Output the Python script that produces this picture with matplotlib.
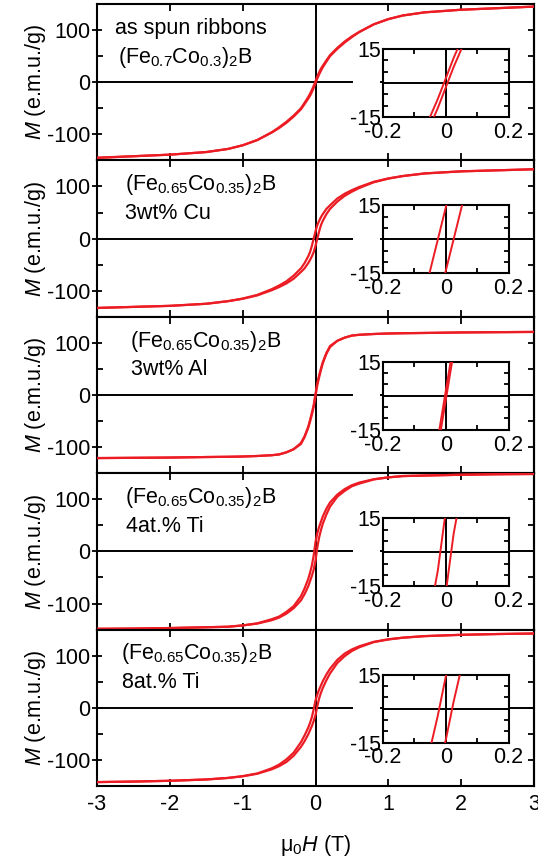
import numpy as np
import matplotlib
matplotlib.use('Agg')
import matplotlib.pyplot as plt
from matplotlib.ticker import FixedLocator

plt.rcParams['font.family'] = ['Liberation Sans', 'DejaVu Sans']
plt.rcParams['mathtext.fontset'] = 'custom'
plt.rcParams['mathtext.rm'] = 'Liberation Sans'
plt.rcParams['mathtext.it'] = 'Liberation Sans:italic'
plt.rcParams['mathtext.bf'] = 'Liberation Sans:bold'
plt.rcParams['axes.unicode_minus'] = False

# applied field mu0H (T), shared grid of the descending branch
field = [-3, -2.5, -2, -1.5, -1.2, -1.0, -0.8, -0.6, -0.5, -0.4, -0.3, -0.2, -0.15,
         -0.1, -0.075, -0.05, -0.025, 0, 0.025, 0.05, 0.075, 0.1, 0.15, 0.2, 0.3,
         0.4, 0.5, 0.6, 0.8, 1.0, 1.2, 1.5, 2.0, 2.5, 3.0]

# magnetisation (e.m.u./g) of the descending branch (coming from +3 T)
m_spun = [-145, -142, -139, -134, -128, -121, -111, -96, -86.5, -76, -64, -50, -39.5,
          -28.5, -22, -15, -7, 2, 11, 19, 26, 31.5, 42, 52, 66,
          78, 88, 96.5, 111, 121, 128, 134, 139, 142, 145]
m_cu = [-133, -131, -129, -125, -120, -115, -108, -97, -90, -82, -71, -57, -47,
        -34, -26, -14, 0, 14, 26, 34, 41, 47, 57, 64, 77,
        86, 93, 99, 109, 115.5, 120, 125, 129, 131, 133]
m_al = [-121, -120.5, -120, -119, -118.5, -118, -117, -115.5, -114, -110, -104, -92, -79,
        -61, -48, -34, -19, 2, 23, 38, 51, 63, 81, 94, 104,
        110, 114, 115.5, 117, 118, 118.5, 119, 120, 120.5, 121]
m_ti4 = [-148.5, -148, -147, -145.5, -144.5, -142, -138, -130, -125, -116, -105, -86, -71,
         -53, -41, -27, -8, 18, 35, 47, 57, 67, 82, 94, 109,
         119.5, 127, 132, 138.5, 142, 144.5, 145.5, 147, 148, 148.5]
m_ti8 = [-142.5, -141.5, -140, -137.5, -134.5, -131, -126, -116, -109, -99, -86, -66, -53,
         -38, -29, -18, -3, 14, 25.5, 35, 43, 51, 64, 75, 92,
         104, 112, 118, 126.5, 131.5, 134.5, 137.5, 140, 141.5, 142.5]

label_top = ["as spun ribbons",
             r"(Fe$_{0.65}$Co$_{0.35}$)$_2$B",
             r"(Fe$_{0.65}$Co$_{0.35}$)$_2$B",
             r"(Fe$_{0.65}$Co$_{0.35}$)$_2$B",
             r"(Fe$_{0.65}$Co$_{0.35}$)$_2$B"]
label_bottom = [r"(Fe$_{0.7}$Co$_{0.3}$)$_2$B",
                "3wt% Cu", "3wt% Al", "4at.% Ti", "8at.% Ti"]
series = [m_spun, m_cu, m_al, m_ti4, m_ti8]

x_ticks = [-3, -2, -1, 0, 1, 2, 3]
y_ticks = [-100, 0, 100]
inset_xticks = [-0.2, 0, 0.2]
inset_yticks = [-15, 15]

RED = '#ec1c24'
FS = 15.5

W, Hpx = 538, 861
fig = plt.figure(figsize=(W / 100, Hpx / 100), dpi=100)
left, right = 97 / W, 534 / W
top, bottom = 1 - 4 / Hpx, 1 - 786 / Hpx
ph = (top - bottom) / 5

H = np.array(field)
for i, m in enumerate(series):
    M = np.array(m, dtype=float)
    H_up = -H[::-1]
    M_up = -M[::-1]
    ax = fig.add_axes([left, top - (i + 1) * ph, right - left, ph])
    ax.set_xlim(-3, 3)
    ax.set_ylim(-150, 150)
    ax.axvline(0, color='black', lw=1.4, zorder=1)
    ax.plot([0, 0.584], [0, 0], color='black', lw=1.4, zorder=1,
            transform=ax.get_yaxis_transform())
    ax.plot([0.65, 1.0], [0, 0], color='black', lw=1.4, zorder=1,
            transform=ax.get_yaxis_transform())
    ax.plot(H[::-1], M[::-1], color=RED, lw=1.6, zorder=3)
    ax.plot(H_up, M_up, color=RED, lw=1.6, zorder=3)
    for s in ax.spines.values():
        s.set_linewidth(1.5)
    ax.set_xticks(x_ticks)
    ax.set_yticks(y_ticks)
    ax.yaxis.set_minor_locator(FixedLocator([-150, -50, 50, 150]))
    ax.tick_params(axis='x', which='major', direction='in', length=5, width=1.3,
                   top=True, bottom=True, labelsize=FS, pad=6,
                   labelbottom=(i == 4))
    ax.tick_params(axis='y', which='major', direction='inout', length=7, width=1.3,
                   left=True, right=False, labelsize=FS, pad=1.5)
    ax.tick_params(axis='y', which='minor', direction='in', length=4, width=1.3,
                   left=True, right=False)
    # right-hand ticks every 50
    axr = ax.secondary_yaxis('right')
    axr.set_yticks([-150, -100, -50, 0, 50, 100, 150])
    axr.tick_params(direction='in', length=4.3, width=1.3, labelright=False)
    axr.spines['right'].set_linewidth(1.5)
    ax.set_ylabel(r"$M$ (e.m.u./g)", fontsize=FS)
    ax.yaxis.set_label_coords(-0.113, 0.5)
    xt = [0.041, 0.064, 0.076, 0.064, 0.055][i]
    xb = [0.048, 0.064, 0.078, 0.066, 0.057][i]
    ax.text(xt, 0.845, label_top[i], transform=ax.transAxes, fontsize=FS,
            ha='left', va='center')
    ax.text(xb, 0.66, label_bottom[i], transform=ax.transAxes, fontsize=FS,
            ha='left', va='center')
    if i == 4:
        ax.set_xlabel(r"$\mathrm{\mu}_0H$ (T)", fontsize=FS)
        ax.xaxis.set_label_coords(0.5, -0.30)

    ins = ax.inset_axes([0.654, 0.2775, 0.288, 0.435])
    ins.set_xlim(-0.2, 0.2)
    ins.set_ylim(-15, 15)
    ins.axvline(0, color='black', lw=1.4, zorder=1)
    ins.axhline(0, color='black', lw=1.4, zorder=1)
    ins.plot(H[::-1], M[::-1], color=RED, lw=1.4, zorder=3)
    ins.plot(H_up, M_up, color=RED, lw=1.4, zorder=3)
    for s in ins.spines.values():
        s.set_linewidth(1.5)
    ins.set_xticks(inset_xticks)
    ins.set_xticklabels(['-0.2', '0', '0.2'])
    ins.xaxis.set_minor_locator(FixedLocator([-0.1, 0.1]))
    ins.set_yticks(inset_yticks)
    ins.yaxis.set_minor_locator(FixedLocator([-10, -5, 0, 5, 10]))
    ins.tick_params(which='both', direction='in', length=3.6, width=1.3,
                    top=True, right=True, labelsize=FS)
    ins.tick_params(axis='x', pad=3.5)
    ins.tick_params(axis='y', pad=1.5)

fig.savefig('out.png', dpi=100)
